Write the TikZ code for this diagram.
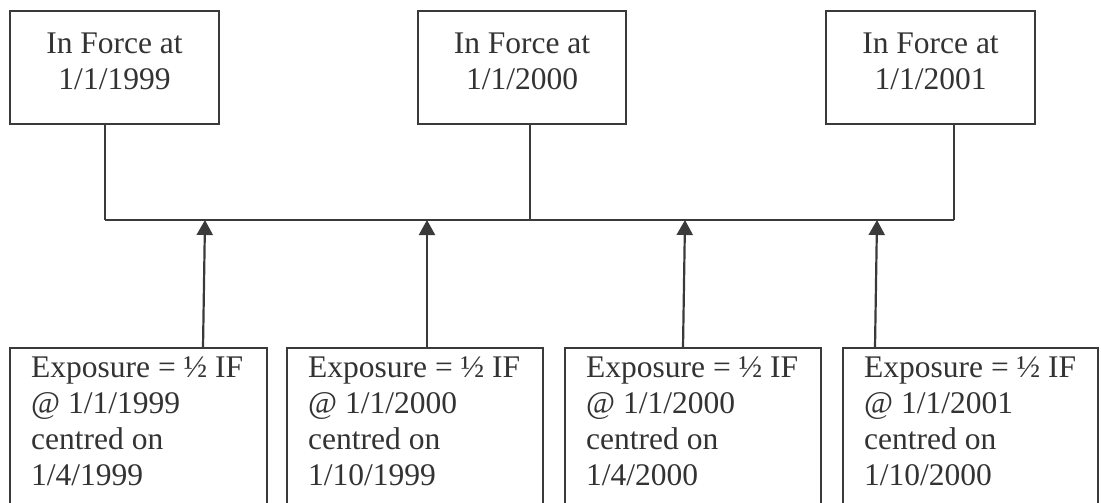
\documentclass[tikz,border=0pt]{standalone}
\usepackage{fontspec}
\setmainfont{Liberation Serif}
\usetikzlibrary{arrows.meta}
\definecolor{ink}{HTML}{333333}
\definecolor{linecol}{HTML}{3A3A3A}
\tikzset{
  box/.style={draw=linecol, line width=2.2pt, anchor=north west, inner sep=0pt, outer sep=0pt},
  lbl/.style={text=ink, font=\fontsize{31.5}{36}\selectfont, inner sep=0pt},
  conn/.style={draw=linecol, line width=2.2pt},
  arr/.style={conn, -{Triangle[width=16pt,length=15pt]}},
}
\begin{document}
\begin{tikzpicture}[x=1pt,y=-1pt]
\useasboundingbox (0,0) rectangle (1101,503);
% top boxes
\node[box, minimum width=209pt, minimum height=113pt] (t1) at (10,11) {};
\node[box, minimum width=208pt, minimum height=113pt] (t2) at (418,11) {};
\node[box, minimum width=209pt, minimum height=113pt] (t3) at (826,11) {};
\node[lbl, align=center, anchor=base] (tl1) at (114.5,90) {In Force at\\1/1/1999};
\node[lbl, align=center, anchor=base] (tl2) at (522,90) {In Force at\\1/1/2000};
\node[lbl, align=center, anchor=base] (tl3) at (930.5,90) {In Force at\\1/1/2001};
% bottom boxes
\node[box, minimum width=257pt, minimum height=220pt] (b1) at (10,348) {};
\node[box, minimum width=256pt, minimum height=220pt] (b2) at (287,348) {};
\node[box, minimum width=256pt, minimum height=220pt] (b3) at (565,348) {};
\node[box, minimum width=255pt, minimum height=220pt] (b4) at (843,348) {};
\node[lbl, align=left, anchor=base west] (bl1) at (31,485) {Exposure = ½ IF\\@ 1/1/1999\\centred on\\1/4/1999};
\node[lbl, align=left, anchor=base west] (bl2) at (308,485) {Exposure = ½ IF\\@ 1/1/2000\\centred on\\1/10/1999};
\node[lbl, align=left, anchor=base west] (bl3) at (586,485) {Exposure = ½ IF\\@ 1/1/2000\\centred on\\1/4/2000};
\node[lbl, align=left, anchor=base west] (bl4) at (864,485) {Exposure = ½ IF\\@ 1/1/2001\\centred on\\1/10/2000};
% junction points
\coordinate (j1) at (105,220);
\coordinate (j2) at (530,220);
\coordinate (j3) at (954,220);
\draw[conn] (t1.south -| j1) -- (j1);
\draw[conn] (t2.south -| j2) -- (j2);
\draw[conn] (t3.south -| j3) -- (j3);
\draw[conn] (j1) -- (j3);
% arrows
\coordinate (s1) at (203,348); \coordinate (e1) at (205,220);
\coordinate (s2) at (427,348); \coordinate (e2) at (427,220);
\coordinate (s3) at (683,348); \coordinate (e3) at (685,220);
\coordinate (s4) at (875,348); \coordinate (e4) at (877,220);
\draw[arr] (s1) -- (e1);
\draw[arr] (s2) -- (e2);
\draw[arr] (s3) -- (e3);
\draw[arr] (s4) -- (e4);
\end{tikzpicture}
\end{document}
